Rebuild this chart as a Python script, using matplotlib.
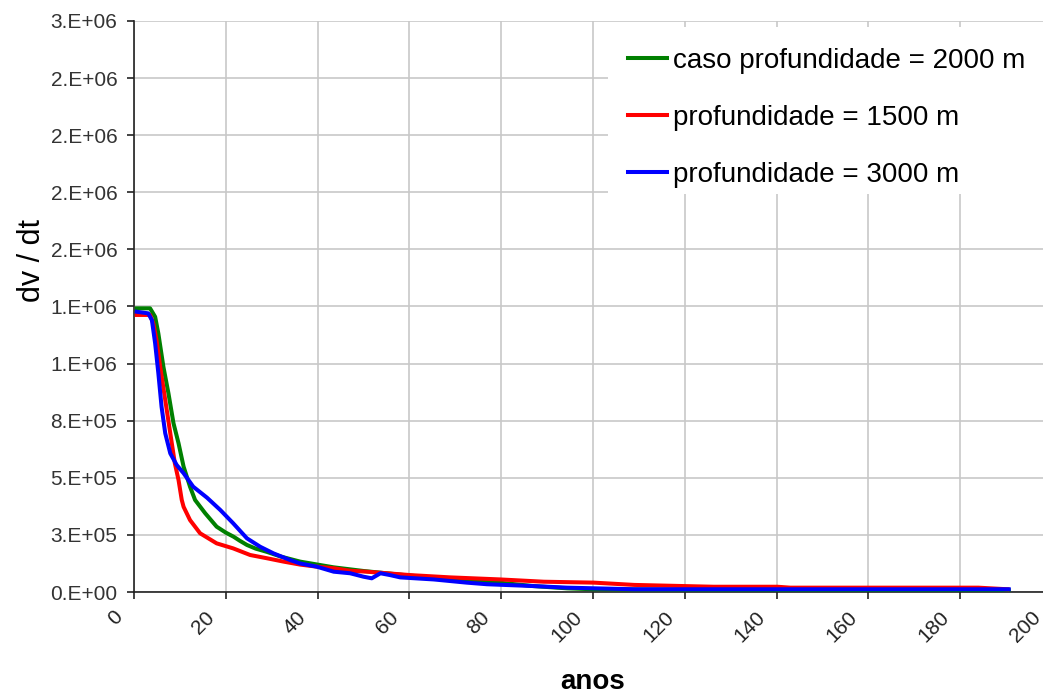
import matplotlib
matplotlib.use('Agg')
import matplotlib.pyplot as plt
import matplotlib.transforms as mtransforms
from matplotlib.patches import Rectangle

plt.rcParams['font.family'] = ['Liberation Sans', 'DejaVu Sans']

# taxa dv/dt ao longo do tempo (anos) para tres profundidades
anos_2000 = [0.6, 3.5, 4.6, 5.3, 6.4, 7.5, 8.6, 9.7, 10.8, 12.2, 13.3,
             15.5, 18.0, 20.0, 21.7, 23.0, 24.6, 26.5, 28.9, 32.0, 36.2,
             40.0, 43.5, 50.0, 55.0, 60.0, 70.0, 80.0, 87.0, 94.4, 100.0,
             120.0, 150.0, 190.6]
dvdt_2000 = [1.242e6, 1.242e6, 1.205e6, 1.132e6, 986e3, 870e3, 739e3,
             651e3, 549e3, 461e3, 403e3, 345e3, 286e3, 260e3, 242e3, 225e3,
             206e3, 190e3, 176e3, 155e3, 133e3, 120e3, 108e3, 92e3, 82e3,
             72e3, 55e3, 40e3, 26e3, 16e3, 12e3, 10e3, 9e3, 8e3]

anos_1500 = [0.6, 3.5, 4.2, 4.9, 5.7, 6.8, 7.9, 8.9, 9.7, 10.4, 10.8, 12.2,
             14.4, 18.0, 21.6, 25.3, 28.9, 32.6, 36.2, 39.8, 43.5, 47.1,
             50.7, 60.2, 68.9, 79.8, 89.3, 100.2, 109.0, 119.8, 126.3,
             140.2, 143.0, 184.0, 190.3]
dvdt_1500 = [1.213e6, 1.213e6, 1.176e6, 1.103e6, 986e3, 841e3, 695e3,
             563e3, 490e3, 403e3, 373e3, 315e3, 257e3, 213e3, 191e3, 162e3,
             148e3, 133e3, 120e3, 111e3, 104e3, 93e3, 89e3, 74e3, 64e3,
             55e3, 45e3, 41e3, 31e3, 26e3, 23e3, 23e3, 19e3, 19e3, 12e3]

anos_3000 = [0.6, 3.1, 3.9, 4.6, 5.3, 6.0, 6.8, 7.9, 9.3, 10.8, 12.9, 15.9,
             18.8, 21.6, 24.6, 27.5, 30.4, 34.0, 36.2, 39.8, 43.5, 47.1,
             50.0, 51.8, 53.7, 55.8, 58.0, 65.3, 72.5, 76.9, 87.0, 94.4,
             109.0, 150.0, 190.6]
dvdt_3000 = [1.227e6, 1.22e6, 1.19e6, 1.089e6, 958e3, 811e3, 695e3, 607e3,
             556e3, 520e3, 461e3, 413e3, 359e3, 301e3, 235e3, 198e3, 169e3,
             140e3, 125e3, 111e3, 89e3, 82e3, 67e3, 60e3, 82e3, 74e3, 64e3,
             55e3, 41e3, 34e3, 26e3, 19e3, 12e3, 12e3, 12e3]

x_ticks = list(range(0, 201, 20))
y_ticks = [i * 250000 for i in range(11)]
y_tick_labels = ['0.E+00', '3.E+05', '5.E+05', '8.E+05', '1.E+06', '1.E+06',
                 '2.E+06', '2.E+06', '2.E+06', '2.E+06', '3.E+06']

labels = ['caso profundidade = 2000 m', 'profundidade = 1500 m',
          'profundidade = 3000 m']
colors = ['#008000', '#ff0000', '#0000ff']


def main():
    fig = plt.figure(figsize=(10.43, 6.95), dpi=100)
    ax = fig.add_axes([0.1285, 0.1482, 0.880, 0.8216])

    series = [(anos_2000, dvdt_2000), (anos_1500, dvdt_1500),
              (anos_3000, dvdt_3000)]
    for (x, y), lab, c in zip(series, labels, colors):
        ax.plot(x, y, color=c, lw=2.9, label=lab, solid_joinstyle='round',
                zorder=3)

    ax.set_xlim(0, 200)
    ax.set_ylim(0, 2.5e6)
    ax.set_xticks(x_ticks)
    ax.set_yticks(y_ticks)
    ax.set_yticklabels(y_tick_labels)

    ax.grid(True, color='#c8c8c8', lw=1.2)
    ax.set_axisbelow(True)
    for s in ['top', 'right']:
        ax.spines[s].set_visible(False)
    for s in ['left', 'bottom']:
        ax.spines[s].set_color('#222222')
        ax.spines[s].set_linewidth(1.2)

    ax.tick_params(axis='y', direction='out', length=5, width=1.2,
                   color='#222222', labelsize=15, labelcolor='#333333', pad=7)
    ax.tick_params(axis='x', direction='out', length=5, width=1.2,
                   color='#222222', labelsize=15, labelcolor='#222222',
                   pad=11)

    shift = mtransforms.ScaledTranslation(-0.14, 0, fig.dpi_scale_trans)
    for lbl in ax.get_xticklabels():
        lbl.set_rotation(45)
        lbl.set_ha('right')
        lbl.set_va('center')
        lbl.set_rotation_mode('anchor')
        lbl.set_transform(lbl.get_transform() + shift)

    ax.set_xlabel('anos', fontsize=20, fontweight='bold')
    ax.xaxis.set_label_coords(0.5, -0.134)
    ax.set_ylabel('dv / dt', fontsize=22)
    ax.yaxis.set_label_coords(-0.095, 0.58)

    # white box behind the legend, hiding the grid there
    ax.add_patch(Rectangle((0.516, 0.697), 0.5, 0.2925,
                           transform=ax.transAxes, facecolor='white',
                           edgecolor='none', zorder=1.5))
    ax.legend(loc='upper left', bbox_to_anchor=(0.516, 0.9895),
              fontsize=20, frameon=False,
              handlelength=1.4, handletextpad=0.2, labelspacing=1.12,
              borderpad=0.75, borderaxespad=0)

    plt.savefig('out.png', dpi=100)
    plt.close()


if __name__ == '__main__':
    main()
